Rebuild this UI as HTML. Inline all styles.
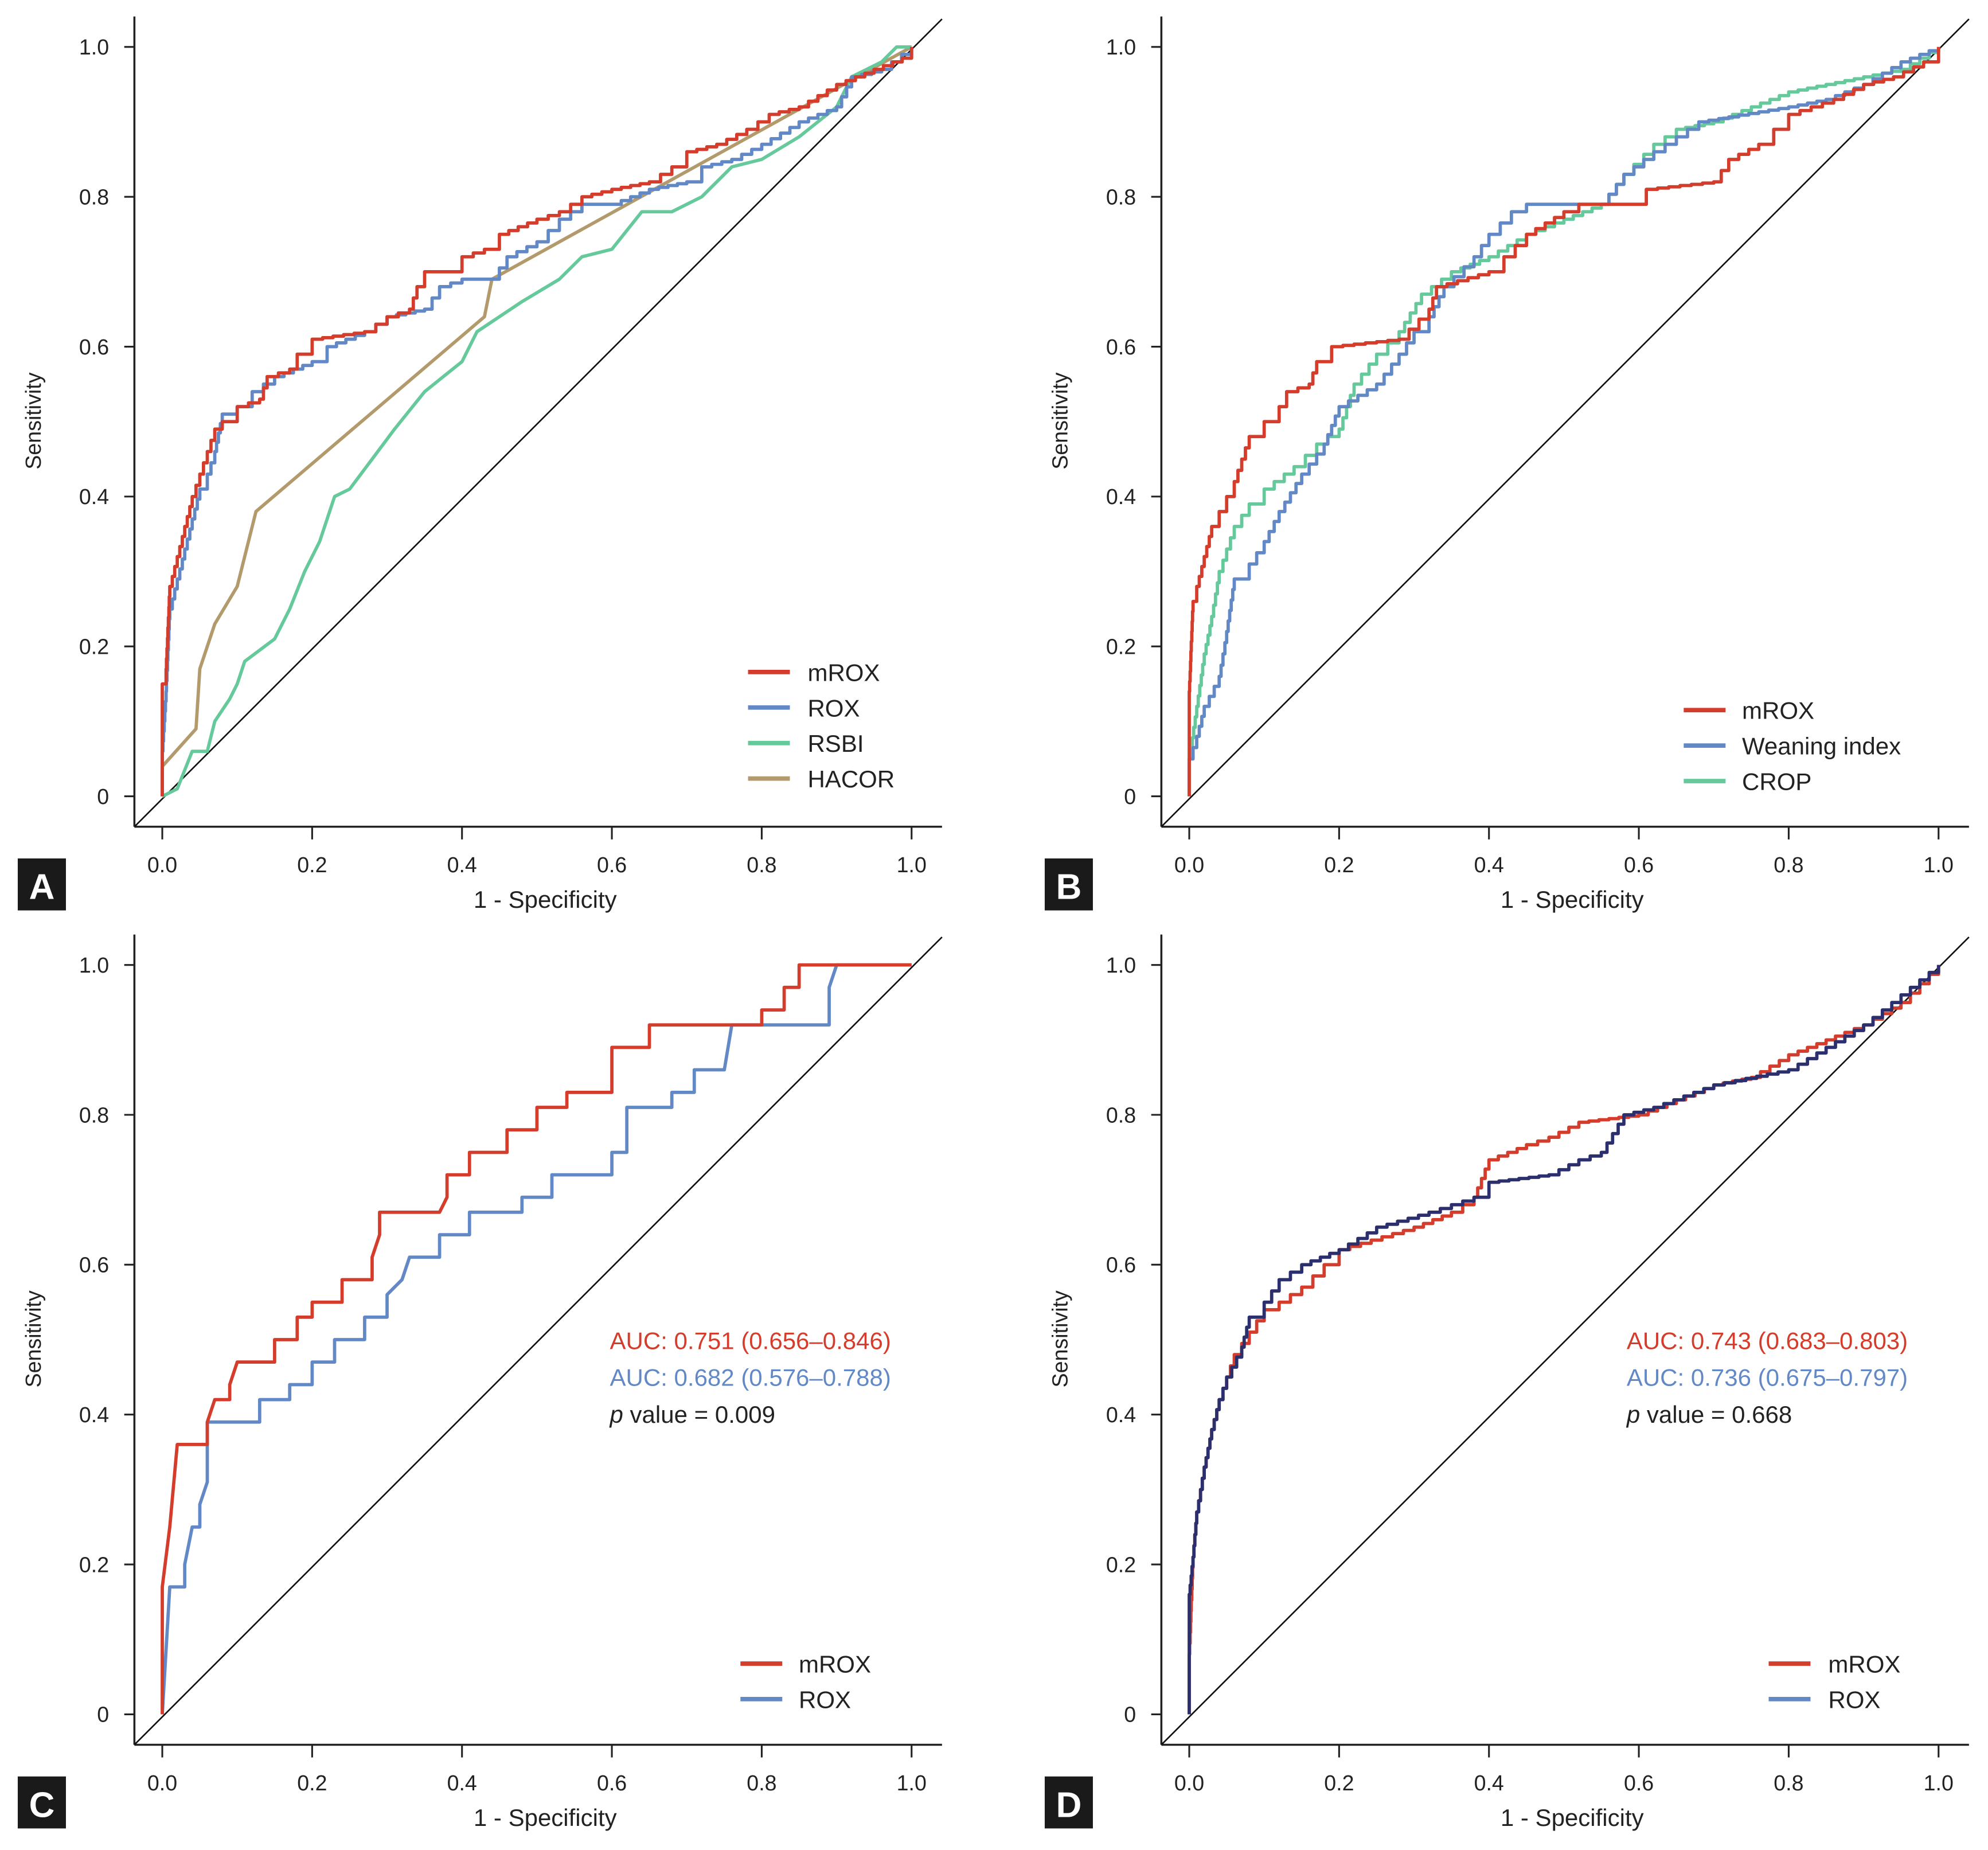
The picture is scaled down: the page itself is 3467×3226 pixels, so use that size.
<!DOCTYPE html>
<html><head><meta charset="utf-8">
<style>
html,body{margin:0;padding:0;background:#fff;}
svg{display:block;}
text{font-family:"Liberation Sans Narrow","Liberation Sans",sans-serif;}
</style></head>
<body>
<svg id="s" width="3467" height="3226" viewBox="0 0 1568 1459" xmlns="http://www.w3.org/2000/svg">
<rect width="1568" height="1459" fill="#fff"/>
<g id="g"></g>
</svg>
<script>
const R="#d43c2c",B="#6289c6",G="#66c99c",T="#b39a6c",N="#2c2f6e";
const panels=[
 {ox:0,oy:0,L:"A",leg:{x:590,tx:637,y:530,items:[["mROX",R],["ROX",B],["RSBI",G],["HACOR",T]]},
  series:[
   [T,[[0,0],[0,0.04],[0.045,0.09],[0.05,0.17],[0.07,0.23],[0.1,0.28],[0.125,0.38],[0.43,0.64],[0.44,0.69],[1,1]],0],
   [G,[[0,0],[0.02,0.01],[0.04,0.06],[0.06,0.06],[0.07,0.1],[0.09,0.13],[0.1,0.15],[0.11,0.18],[0.15,0.21],[0.17,0.25],[0.19,0.30],[0.21,0.34],[0.23,0.40],[0.25,0.41],[0.28,0.45],[0.31,0.49],[0.35,0.54],[0.4,0.58],[0.42,0.62],[0.48,0.66],[0.53,0.69],[0.56,0.72],[0.6,0.73],[0.64,0.78],[0.68,0.78],[0.72,0.80],[0.76,0.84],[0.8,0.85],[0.85,0.88],[0.9,0.92],[0.92,0.96],[0.96,0.98],[0.98,1],[1,1]],0],
   [B,[[0,0],[0,0.06],[0.005,0.14],[0.01,0.25],[0.02,0.29],[0.03,0.33],[0.04,0.37],[0.05,0.41],[0.06,0.43],[0.07,0.46],[0.08,0.51],[0.1,0.52],[0.12,0.54],[0.15,0.56],[0.2,0.58],[0.22,0.6],[0.27,0.62],[0.3,0.64],[0.35,0.65],[0.37,0.68],[0.4,0.69],[0.44,0.69],[0.46,0.72],[0.5,0.74],[0.53,0.77],[0.56,0.79],[0.6,0.79],[0.65,0.81],[0.7,0.82],[0.72,0.84],[0.76,0.85],[0.8,0.87],[0.85,0.90],[0.9,0.92],[0.92,0.96],[0.96,0.97],[1,1]],1],
   [R,[[0,0],[0,0.15],[0.005,0.17],[0.01,0.28],[0.02,0.32],[0.03,0.36],[0.04,0.40],[0.05,0.43],[0.06,0.46],[0.07,0.49],[0.08,0.50],[0.1,0.52],[0.13,0.53],[0.14,0.56],[0.17,0.57],[0.18,0.59],[0.2,0.61],[0.27,0.62],[0.3,0.64],[0.33,0.65],[0.34,0.68],[0.35,0.70],[0.38,0.70],[0.4,0.72],[0.43,0.73],[0.45,0.75],[0.5,0.77],[0.53,0.78],[0.56,0.8],[0.6,0.81],[0.65,0.82],[0.68,0.84],[0.7,0.86],[0.74,0.87],[0.78,0.89],[0.81,0.91],[0.85,0.92],[0.9,0.95],[0.95,0.97],[1,0.99],[1,1]],1]
  ]},
 {ox:810,oy:0,L:"B",leg:{x:1328,tx:1374,y:560,items:[["mROX",R],["Weaning index",B],["CROP",G]]},
  series:[
   [G,[[0,0],[0,0.05],[0.01,0.12],[0.02,0.19],[0.03,0.24],[0.04,0.30],[0.06,0.36],[0.08,0.39],[0.1,0.41],[0.14,0.44],[0.17,0.47],[0.2,0.49],[0.22,0.55],[0.25,0.59],[0.28,0.62],[0.31,0.67],[0.35,0.70],[0.4,0.72],[0.45,0.75],[0.5,0.77],[0.55,0.79],[0.58,0.83],[0.62,0.87],[0.65,0.89],[0.7,0.90],[0.75,0.92],[0.8,0.94],[0.85,0.95],[0.9,0.96],[0.95,0.97],[1,1]],1],
   [B,[[0,0],[0,0.05],[0.01,0.08],[0.02,0.12],[0.04,0.16],[0.05,0.22],[0.06,0.29],[0.08,0.31],[0.1,0.34],[0.12,0.38],[0.15,0.43],[0.18,0.47],[0.2,0.52],[0.25,0.55],[0.28,0.59],[0.3,0.62],[0.32,0.64],[0.34,0.68],[0.38,0.72],[0.4,0.75],[0.43,0.78],[0.45,0.79],[0.55,0.79],[0.58,0.83],[0.62,0.86],[0.65,0.88],[0.68,0.90],[0.8,0.92],[0.85,0.93],[0.9,0.95],[0.95,0.98],[1,1]],1],
   [R,[[0,0],[0,0.14],[0.005,0.26],[0.01,0.28],[0.02,0.32],[0.03,0.36],[0.04,0.38],[0.05,0.40],[0.06,0.42],[0.07,0.45],[0.08,0.48],[0.1,0.50],[0.12,0.52],[0.13,0.54],[0.16,0.55],[0.17,0.58],[0.19,0.60],[0.28,0.61],[0.32,0.65],[0.33,0.68],[0.4,0.70],[0.42,0.72],[0.45,0.75],[0.5,0.78],[0.52,0.79],[0.6,0.79],[0.61,0.81],[0.7,0.82],[0.72,0.85],[0.76,0.87],[0.78,0.89],[0.8,0.91],[0.86,0.93],[0.9,0.95],[0.94,0.96],[0.98,0.98],[1,1]],1]
  ]},
 {ox:0,oy:724,L:"C",leg:{x:584,tx:630,y:1312,items:[["mROX",R],["ROX",B]]},
  auc:{x:481,a:"AUC: 0.751 (0.656\u20130.846)",b:"AUC: 0.682 (0.576\u20130.788)",p:"0.009"},
  series:[
   [B,[[0,0],[0.01,0.17],[0.03,0.17],[0.03,0.2],[0.04,0.25],[0.05,0.25],[0.05,0.28],[0.06,0.31],[0.06,0.39],[0.13,0.39],[0.13,0.42],[0.17,0.42],[0.17,0.44],[0.2,0.44],[0.2,0.47],[0.23,0.47],[0.23,0.5],[0.27,0.5],[0.27,0.53],[0.3,0.53],[0.3,0.56],[0.32,0.58],[0.33,0.61],[0.37,0.61],[0.37,0.64],[0.41,0.64],[0.41,0.67],[0.48,0.67],[0.48,0.69],[0.52,0.69],[0.52,0.72],[0.6,0.72],[0.6,0.75],[0.62,0.75],[0.62,0.81],[0.68,0.81],[0.68,0.83],[0.71,0.83],[0.71,0.86],[0.75,0.86],[0.76,0.92],[0.89,0.92],[0.89,0.97],[0.9,1],[1,1]],0],
   [R,[[0,0],[0,0.17],[0.01,0.25],[0.02,0.36],[0.06,0.36],[0.06,0.39],[0.07,0.42],[0.09,0.42],[0.09,0.44],[0.1,0.47],[0.15,0.47],[0.15,0.5],[0.18,0.5],[0.18,0.53],[0.2,0.53],[0.2,0.55],[0.24,0.55],[0.24,0.58],[0.28,0.58],[0.28,0.61],[0.29,0.64],[0.29,0.67],[0.37,0.67],[0.38,0.69],[0.38,0.72],[0.41,0.72],[0.41,0.75],[0.46,0.75],[0.46,0.78],[0.5,0.78],[0.5,0.81],[0.54,0.81],[0.54,0.83],[0.6,0.83],[0.6,0.89],[0.65,0.89],[0.65,0.92],[0.8,0.92],[0.8,0.94],[0.83,0.94],[0.83,0.97],[0.85,0.97],[0.85,1],[1,1]],0]
  ]},
 {ox:810,oy:724,L:"D",leg:{x:1395,tx:1442,y:1312,items:[["mROX",R],["ROX",B]]},
  auc:{x:1283,a:"AUC: 0.743 (0.683\u20130.803)",b:"AUC: 0.736 (0.675\u20130.797)",p:"0.668"},
  series:[
   [R,[[0,0],[0,0.08],[0.005,0.21],[0.01,0.27],[0.02,0.33],[0.03,0.38],[0.04,0.42],[0.05,0.45],[0.06,0.48],[0.08,0.51],[0.1,0.54],[0.12,0.55],[0.15,0.57],[0.18,0.60],[0.2,0.62],[0.3,0.65],[0.35,0.67],[0.38,0.69],[0.4,0.74],[0.45,0.76],[0.48,0.77],[0.52,0.79],[0.6,0.80],[0.65,0.82],[0.7,0.84],[0.75,0.85],[0.8,0.88],[0.85,0.90],[0.9,0.92],[0.95,0.95],[1,1]],1],
   [N,[[0,0],[0,0.16],[0.005,0.21],[0.01,0.27],[0.02,0.33],[0.03,0.38],[0.04,0.42],[0.05,0.45],[0.07,0.49],[0.08,0.53],[0.1,0.55],[0.12,0.58],[0.15,0.60],[0.2,0.62],[0.25,0.65],[0.32,0.67],[0.38,0.69],[0.4,0.71],[0.48,0.72],[0.52,0.74],[0.55,0.75],[0.58,0.80],[0.62,0.81],[0.7,0.84],[0.8,0.86],[0.85,0.89],[0.9,0.92],[0.95,0.96],[1,1]],1]
  ]}
];
function stepify(pts){
 const out=[pts[0]];
 for(let i=1;i<pts.length;i++){
  const [x0,y0]=pts[i-1],[x1,y1]=pts[i];
  const n=Math.max(1,Math.round(Math.max(Math.abs(x1-x0),Math.abs(y1-y0))/0.014));
  for(let k=1;k<=n;k++){
   const px=x0+(x1-x0)*(k-1)/n, py=y0+(y1-y0)*(k-1)/n;
   const nx=x0+(x1-x0)*k/n, ny=y0+(y1-y0)*k/n;
   out.push([nx,py]); out.push([nx,ny]);
  }
 }
 return out;
}
let h="";
for(const P of panels){
 const X=v=>P.ox+128+v*591, Y=v=>P.oy+628-v*591;
 const lx=P.ox+106, by=P.oy+652;
 h+=`<line x1="${lx}" y1="${P.oy+13}" x2="${lx}" y2="${by}" stroke="#222" stroke-width="1.6"/>`;
 h+=`<line x1="${lx}" y1="${by}" x2="${P.ox+743}" y2="${by}" stroke="#222" stroke-width="1.6"/>`;
 h+=`<line x1="${lx}" y1="${by}" x2="${P.ox+743}" y2="${P.oy+15}" stroke="#111" stroke-width="1.2"/>`;
 const tl=["0","0.2","0.4","0.6","0.8","1.0"];
 for(let i=0;i<6;i++){
  const v=i/5;
  h+=`<line x1="${lx-8}" y1="${Y(v)}" x2="${lx}" y2="${Y(v)}" stroke="#222" stroke-width="1.4"/>`;
  h+=`<text x="${lx-20}" y="${Y(v)+6}" font-size="17" text-anchor="end" fill="#222">${tl[i]}</text>`;
  h+=`<line x1="${X(v)}" y1="${by}" x2="${X(v)}" y2="${by+10}" stroke="#222" stroke-width="1.4"/>`;
  h+=`<text x="${X(v)}" y="${by+36}" font-size="17" text-anchor="middle" fill="#222">${i==0?"0.0":tl[i]}</text>`;
 }
 h+=`<text transform="translate(${P.ox+32},${P.oy+332}) rotate(-90)" font-size="17" text-anchor="middle" fill="#222">Sensitivity</text>`;
 h+=`<text x="${P.ox+430}" y="${P.oy+716}" font-size="19" text-anchor="middle" fill="#222">1 - Specificity</text>`;
 h+=`<rect x="${P.ox+14}" y="${P.oy+677}" width="38" height="41" fill="#1a1a1a"/>`;
 h+=`<text x="${P.ox+33}" y="${P.oy+709}" font-size="28" font-weight="bold" text-anchor="middle" fill="#fff">${P.L}</text>`;
 for(const [c,pts0,st] of P.series){
  const pts=st?stepify(pts0):pts0;
  h+=`<polyline fill="none" stroke="${c}" stroke-width="2.6" stroke-linejoin="round" points="${pts.map(p=>X(p[0]).toFixed(1)+","+Y(p[1]).toFixed(1)).join(" ")}"/>`;
 }
 P.leg.items.forEach(([t,c],i)=>{
  const y=P.leg.y+i*28;
  h+=`<line x1="${P.leg.x}" y1="${y}" x2="${P.leg.x+33}" y2="${y}" stroke="${c}" stroke-width="3.5"/>`;
  h+=`<text x="${P.leg.tx}" y="${y+7}" font-size="19" fill="#222">${t}</text>`;
 });
 if(P.auc){
  const a=P.auc;
  h+=`<text x="${a.x}" y="${P.oy+1064-724}" font-size="19" fill="${R}">${a.a}</text>`;
  h+=`<text x="${a.x}" y="${P.oy+1093-724}" font-size="19" fill="${B}">${a.b}</text>`;
  h+=`<text x="${a.x}" y="${P.oy+1122-724}" font-size="19" fill="#222"><tspan font-style="italic">p</tspan> value = ${a.p}</text>`;
 }
}
document.getElementById("g").innerHTML=h;
</script>
</body></html>
